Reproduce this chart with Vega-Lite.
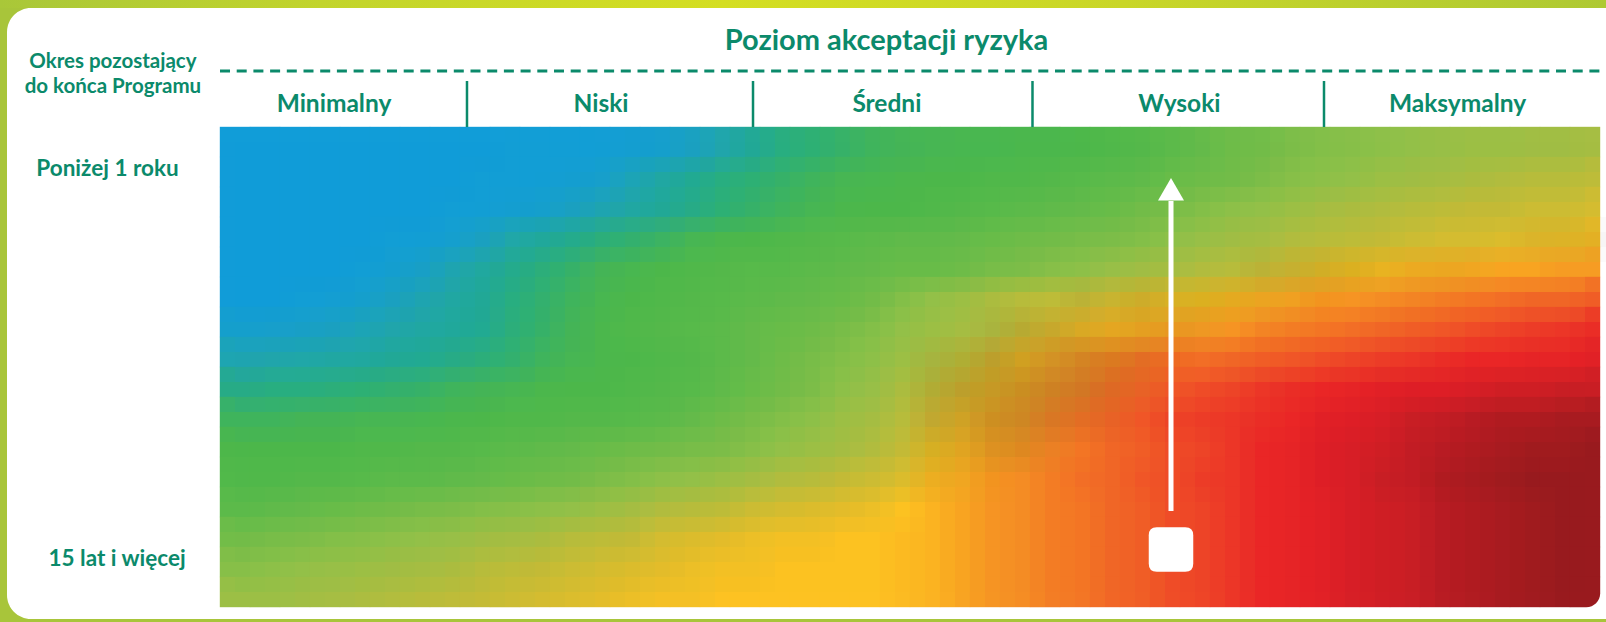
{
"$schema": "https://vega.github.io/schema/vega-lite/v6.json",
"width": 1599, "height": 612,
"autosize": {"type": "none"},
"padding": {"left": 7, "top": 8, "right": 0, "bottom": 2},
"background": "#A8C53A",
"config": {"view": {"fill": null, "stroke": null}, "font": "Lato"},
"datasets": {
"cells": [
{"c":0,"r":0,"v":2},{"c":1,"r":0,"v":2},{"c":2,"r":0,"v":2},{"c":3,"r":0,"v":2},{"c":4,"r":0,"v":2},{"c":5,"r":0,"v":2},{"c":6,"r":0,"v":2},{"c":7,"r":0,"v":2},{"c":8,"r":0,"v":2},{"c":9,"r":0,"v":3},{"c":10,"r":0,"v":3},{"c":11,"r":0,"v":3},{"c":12,"r":0,"v":4},{"c":13,"r":0,"v":6},{"c":14,"r":0,"v":9},{"c":15,"r":0,"v":12},{"c":16,"r":0,"v":16},{"c":17,"r":0,"v":21},{"c":18,"r":0,"v":25},{"c":19,"r":0,"v":27},{"c":20,"r":0,"v":29},{"c":21,"r":0,"v":31},{"c":22,"r":0,"v":32},{"c":23,"r":0,"v":33},{"c":24,"r":0,"v":34},{"c":25,"r":0,"v":34},{"c":26,"r":0,"v":35},{"c":27,"r":0,"v":35},{"c":28,"r":0,"v":36},{"c":29,"r":0,"v":37},{"c":30,"r":0,"v":38},{"c":31,"r":0,"v":40},{"c":32,"r":0,"v":42},{"c":33,"r":0,"v":44},{"c":34,"r":0,"v":45},{"c":35,"r":0,"v":47},{"c":36,"r":0,"v":48},{"c":37,"r":0,"v":49},{"c":38,"r":0,"v":50},{"c":39,"r":0,"v":51},{"c":40,"r":0,"v":52},{"c":41,"r":0,"v":53},{"c":42,"r":0,"v":53},{"c":43,"r":0,"v":54},{"c":44,"r":0,"v":54},{"c":45,"r":0,"v":55},
{"c":0,"r":1,"v":2},{"c":1,"r":1,"v":2},{"c":2,"r":1,"v":2},{"c":3,"r":1,"v":2},{"c":4,"r":1,"v":2},{"c":5,"r":1,"v":2},{"c":6,"r":1,"v":2},{"c":7,"r":1,"v":2},{"c":8,"r":1,"v":3},{"c":9,"r":1,"v":3},{"c":10,"r":1,"v":4},{"c":11,"r":1,"v":6},{"c":12,"r":1,"v":10},{"c":13,"r":1,"v":14},{"c":14,"r":1,"v":18},{"c":15,"r":1,"v":22},{"c":16,"r":1,"v":25},{"c":17,"r":1,"v":27},{"c":18,"r":1,"v":29},{"c":19,"r":1,"v":31},{"c":20,"r":1,"v":33},{"c":21,"r":1,"v":34},{"c":22,"r":1,"v":35},{"c":23,"r":1,"v":36},{"c":24,"r":1,"v":36},{"c":25,"r":1,"v":37},{"c":26,"r":1,"v":37},{"c":27,"r":1,"v":38},{"c":28,"r":1,"v":39},{"c":29,"r":1,"v":40},{"c":30,"r":1,"v":41},{"c":31,"r":1,"v":43},{"c":32,"r":1,"v":44},{"c":33,"r":1,"v":45},{"c":34,"r":1,"v":47},{"c":35,"r":1,"v":49},{"c":36,"r":1,"v":50},{"c":37,"r":1,"v":51},{"c":38,"r":1,"v":53},{"c":39,"r":1,"v":54},{"c":40,"r":1,"v":55},{"c":41,"r":1,"v":56},{"c":42,"r":1,"v":57},{"c":43,"r":1,"v":58},{"c":44,"r":1,"v":58},{"c":45,"r":1,"v":59},
{"c":0,"r":2,"v":2},{"c":1,"r":2,"v":2},{"c":2,"r":2,"v":2},{"c":3,"r":2,"v":2},{"c":4,"r":2,"v":2},{"c":5,"r":2,"v":2},{"c":6,"r":2,"v":2},{"c":7,"r":2,"v":3},{"c":8,"r":2,"v":4},{"c":9,"r":2,"v":6},{"c":10,"r":2,"v":9},{"c":11,"r":2,"v":12},{"c":12,"r":2,"v":15},{"c":13,"r":2,"v":18},{"c":14,"r":2,"v":21},{"c":15,"r":2,"v":24},{"c":16,"r":2,"v":27},{"c":17,"r":2,"v":29},{"c":18,"r":2,"v":31},{"c":19,"r":2,"v":33},{"c":20,"r":2,"v":35},{"c":21,"r":2,"v":36},{"c":22,"r":2,"v":36},{"c":23,"r":2,"v":37},{"c":24,"r":2,"v":38},{"c":25,"r":2,"v":39},{"c":26,"r":2,"v":40},{"c":27,"r":2,"v":41},{"c":28,"r":2,"v":42},{"c":29,"r":2,"v":43},{"c":30,"r":2,"v":45},{"c":31,"r":2,"v":46},{"c":32,"r":2,"v":48},{"c":33,"r":2,"v":50},{"c":34,"r":2,"v":51},{"c":35,"r":2,"v":53},{"c":36,"r":2,"v":55},{"c":37,"r":2,"v":56},{"c":38,"r":2,"v":57},{"c":39,"r":2,"v":58},{"c":40,"r":2,"v":59},{"c":41,"r":2,"v":60},{"c":42,"r":2,"v":60},{"c":43,"r":2,"v":61},{"c":44,"r":2,"v":61},{"c":45,"r":2,"v":62},
{"c":0,"r":3,"v":2},{"c":1,"r":3,"v":2},{"c":2,"r":3,"v":2},{"c":3,"r":3,"v":2},{"c":4,"r":3,"v":2},{"c":5,"r":3,"v":3},{"c":6,"r":3,"v":4},{"c":7,"r":3,"v":8},{"c":8,"r":3,"v":12},{"c":9,"r":3,"v":17},{"c":10,"r":3,"v":20},{"c":11,"r":3,"v":23},{"c":12,"r":3,"v":26},{"c":13,"r":3,"v":28},{"c":14,"r":3,"v":30},{"c":15,"r":3,"v":33},{"c":16,"r":3,"v":35},{"c":17,"r":3,"v":36},{"c":18,"r":3,"v":37},{"c":19,"r":3,"v":38},{"c":20,"r":3,"v":39},{"c":21,"r":3,"v":40},{"c":22,"r":3,"v":41},{"c":23,"r":3,"v":41},{"c":24,"r":3,"v":42},{"c":25,"r":3,"v":43},{"c":26,"r":3,"v":44},{"c":27,"r":3,"v":45},{"c":28,"r":3,"v":46},{"c":29,"r":3,"v":47},{"c":30,"r":3,"v":48},{"c":31,"r":3,"v":50},{"c":32,"r":3,"v":52},{"c":33,"r":3,"v":54},{"c":34,"r":3,"v":55},{"c":35,"r":3,"v":57},{"c":36,"r":3,"v":58},{"c":37,"r":3,"v":59},{"c":38,"r":3,"v":60},{"c":39,"r":3,"v":61},{"c":40,"r":3,"v":62},{"c":41,"r":3,"v":62},{"c":42,"r":3,"v":63},{"c":43,"r":3,"v":64},{"c":44,"r":3,"v":65},{"c":45,"r":3,"v":66},
{"c":0,"r":4,"v":2},{"c":1,"r":4,"v":2},{"c":2,"r":4,"v":2},{"c":3,"r":4,"v":2},{"c":4,"r":4,"v":3},{"c":5,"r":4,"v":7},{"c":6,"r":4,"v":11},{"c":7,"r":4,"v":15},{"c":8,"r":4,"v":19},{"c":9,"r":4,"v":23},{"c":10,"r":4,"v":26},{"c":11,"r":4,"v":29},{"c":12,"r":4,"v":32},{"c":13,"r":4,"v":34},{"c":14,"r":4,"v":36},{"c":15,"r":4,"v":37},{"c":16,"r":4,"v":38},{"c":17,"r":4,"v":39},{"c":18,"r":4,"v":39},{"c":19,"r":4,"v":40},{"c":20,"r":4,"v":41},{"c":21,"r":4,"v":42},{"c":22,"r":4,"v":43},{"c":23,"r":4,"v":43},{"c":24,"r":4,"v":44},{"c":25,"r":4,"v":46},{"c":26,"r":4,"v":47},{"c":27,"r":4,"v":49},{"c":28,"r":4,"v":50},{"c":29,"r":4,"v":52},{"c":30,"r":4,"v":54},{"c":31,"r":4,"v":55},{"c":32,"r":4,"v":57},{"c":33,"r":4,"v":58},{"c":34,"r":4,"v":60},{"c":35,"r":4,"v":62},{"c":36,"r":4,"v":64},{"c":37,"r":4,"v":66},{"c":38,"r":4,"v":67},{"c":39,"r":4,"v":68},{"c":40,"r":4,"v":69},{"c":41,"r":4,"v":70},{"c":42,"r":4,"v":71},{"c":43,"r":4,"v":71},{"c":44,"r":4,"v":72},{"c":45,"r":4,"v":72},
{"c":0,"r":5,"v":2},{"c":1,"r":5,"v":2},{"c":2,"r":5,"v":3},{"c":3,"r":5,"v":5},{"c":4,"r":5,"v":9},{"c":5,"r":5,"v":12},{"c":6,"r":5,"v":15},{"c":7,"r":5,"v":18},{"c":8,"r":5,"v":21},{"c":9,"r":5,"v":25},{"c":10,"r":5,"v":28},{"c":11,"r":5,"v":31},{"c":12,"r":5,"v":34},{"c":13,"r":5,"v":36},{"c":14,"r":5,"v":37},{"c":15,"r":5,"v":38},{"c":16,"r":5,"v":39},{"c":17,"r":5,"v":40},{"c":18,"r":5,"v":41},{"c":19,"r":5,"v":42},{"c":20,"r":5,"v":43},{"c":21,"r":5,"v":45},{"c":22,"r":5,"v":48},{"c":23,"r":5,"v":51},{"c":24,"r":5,"v":53},{"c":25,"r":5,"v":56},{"c":26,"r":5,"v":58},{"c":27,"r":5,"v":59},{"c":28,"r":5,"v":60},{"c":29,"r":5,"v":62},{"c":30,"r":5,"v":63},{"c":31,"r":5,"v":65},{"c":32,"r":5,"v":66},{"c":33,"r":5,"v":68},{"c":34,"r":5,"v":69},{"c":35,"r":5,"v":71},{"c":36,"r":5,"v":72},{"c":37,"r":5,"v":73},{"c":38,"r":5,"v":74},{"c":39,"r":5,"v":75},{"c":40,"r":5,"v":76},{"c":41,"r":5,"v":77},{"c":42,"r":5,"v":78},{"c":43,"r":5,"v":79},{"c":44,"r":5,"v":79},{"c":45,"r":5,"v":80},
{"c":0,"r":6,"v":9},{"c":1,"r":6,"v":10},{"c":2,"r":6,"v":11},{"c":3,"r":6,"v":12},{"c":4,"r":6,"v":14},{"c":5,"r":6,"v":16},{"c":6,"r":6,"v":18},{"c":7,"r":6,"v":20},{"c":8,"r":6,"v":22},{"c":9,"r":6,"v":26},{"c":10,"r":6,"v":29},{"c":11,"r":6,"v":32},{"c":12,"r":6,"v":35},{"c":13,"r":6,"v":37},{"c":14,"r":6,"v":38},{"c":15,"r":6,"v":39},{"c":16,"r":6,"v":40},{"c":17,"r":6,"v":42},{"c":18,"r":6,"v":43},{"c":19,"r":6,"v":44},{"c":20,"r":6,"v":46},{"c":21,"r":6,"v":48},{"c":22,"r":6,"v":51},{"c":23,"r":6,"v":53},{"c":24,"r":6,"v":55},{"c":25,"r":6,"v":57},{"c":26,"r":6,"v":60},{"c":27,"r":6,"v":63},{"c":28,"r":6,"v":66},{"c":29,"r":6,"v":68},{"c":30,"r":6,"v":70},{"c":31,"r":6,"v":71},{"c":32,"r":6,"v":72},{"c":33,"r":6,"v":73},{"c":34,"r":6,"v":75},{"c":35,"r":6,"v":76},{"c":36,"r":6,"v":77},{"c":37,"r":6,"v":78},{"c":38,"r":6,"v":79},{"c":39,"r":6,"v":80},{"c":40,"r":6,"v":81},{"c":41,"r":6,"v":82},{"c":42,"r":6,"v":83},{"c":43,"r":6,"v":84},{"c":44,"r":6,"v":85},{"c":45,"r":6,"v":86},
{"c":0,"r":7,"v":15},{"c":1,"r":7,"v":16},{"c":2,"r":7,"v":17},{"c":3,"r":7,"v":18},{"c":4,"r":7,"v":19},{"c":5,"r":7,"v":21},{"c":6,"r":7,"v":22},{"c":7,"r":7,"v":24},{"c":8,"r":7,"v":26},{"c":9,"r":7,"v":28},{"c":10,"r":7,"v":31},{"c":11,"r":7,"v":33},{"c":12,"r":7,"v":35},{"c":13,"r":7,"v":36},{"c":14,"r":7,"v":37},{"c":15,"r":7,"v":38},{"c":16,"r":7,"v":40},{"c":17,"r":7,"v":42},{"c":18,"r":7,"v":44},{"c":19,"r":7,"v":46},{"c":20,"r":7,"v":48},{"c":21,"r":7,"v":50},{"c":22,"r":7,"v":53},{"c":23,"r":7,"v":56},{"c":24,"r":7,"v":59},{"c":25,"r":7,"v":63},{"c":26,"r":7,"v":67},{"c":27,"r":7,"v":70},{"c":28,"r":7,"v":73},{"c":29,"r":7,"v":75},{"c":30,"r":7,"v":77},{"c":31,"r":7,"v":78},{"c":32,"r":7,"v":78},{"c":33,"r":7,"v":79},{"c":34,"r":7,"v":80},{"c":35,"r":7,"v":81},{"c":36,"r":7,"v":82},{"c":37,"r":7,"v":83},{"c":38,"r":7,"v":84},{"c":39,"r":7,"v":85},{"c":40,"r":7,"v":86},{"c":41,"r":7,"v":87},{"c":42,"r":7,"v":87},{"c":43,"r":7,"v":88},{"c":44,"r":7,"v":88},{"c":45,"r":7,"v":89},
{"c":0,"r":8,"v":24},{"c":1,"r":8,"v":25},{"c":2,"r":8,"v":25},{"c":3,"r":8,"v":26},{"c":4,"r":8,"v":27},{"c":5,"r":8,"v":28},{"c":6,"r":8,"v":29},{"c":7,"r":8,"v":31},{"c":8,"r":8,"v":32},{"c":9,"r":8,"v":33},{"c":10,"r":8,"v":35},{"c":11,"r":8,"v":36},{"c":12,"r":8,"v":36},{"c":13,"r":8,"v":37},{"c":14,"r":8,"v":38},{"c":15,"r":8,"v":39},{"c":16,"r":8,"v":41},{"c":17,"r":8,"v":43},{"c":18,"r":8,"v":45},{"c":19,"r":8,"v":47},{"c":20,"r":8,"v":50},{"c":21,"r":8,"v":52},{"c":22,"r":8,"v":56},{"c":23,"r":8,"v":59},{"c":24,"r":8,"v":63},{"c":25,"r":8,"v":67},{"c":26,"r":8,"v":70},{"c":27,"r":8,"v":73},{"c":28,"r":8,"v":75},{"c":29,"r":8,"v":78},{"c":30,"r":8,"v":79},{"c":31,"r":8,"v":81},{"c":32,"r":8,"v":82},{"c":33,"r":8,"v":83},{"c":34,"r":8,"v":85},{"c":35,"r":8,"v":86},{"c":36,"r":8,"v":87},{"c":37,"r":8,"v":88},{"c":38,"r":8,"v":89},{"c":39,"r":8,"v":90},{"c":40,"r":8,"v":90},{"c":41,"r":8,"v":91},{"c":42,"r":8,"v":92},{"c":43,"r":8,"v":92},{"c":44,"r":8,"v":93},{"c":45,"r":8,"v":93},
{"c":0,"r":9,"v":31},{"c":1,"r":9,"v":31},{"c":2,"r":9,"v":32},{"c":3,"r":9,"v":32},{"c":4,"r":9,"v":33},{"c":5,"r":9,"v":33},{"c":6,"r":9,"v":34},{"c":7,"r":9,"v":35},{"c":8,"r":9,"v":36},{"c":9,"r":9,"v":37},{"c":10,"r":9,"v":37},{"c":11,"r":9,"v":38},{"c":12,"r":9,"v":38},{"c":13,"r":9,"v":39},{"c":14,"r":9,"v":40},{"c":15,"r":9,"v":42},{"c":16,"r":9,"v":44},{"c":17,"r":9,"v":46},{"c":18,"r":9,"v":48},{"c":19,"r":9,"v":50},{"c":20,"r":9,"v":53},{"c":21,"r":9,"v":55},{"c":22,"r":9,"v":58},{"c":23,"r":9,"v":62},{"c":24,"r":9,"v":66},{"c":25,"r":9,"v":70},{"c":26,"r":9,"v":72},{"c":27,"r":9,"v":75},{"c":28,"r":9,"v":77},{"c":29,"r":9,"v":79},{"c":30,"r":9,"v":81},{"c":31,"r":9,"v":83},{"c":32,"r":9,"v":84},{"c":33,"r":9,"v":85},{"c":34,"r":9,"v":86},{"c":35,"r":9,"v":87},{"c":36,"r":9,"v":89},{"c":37,"r":9,"v":90},{"c":38,"r":9,"v":91},{"c":39,"r":9,"v":93},{"c":40,"r":9,"v":94},{"c":41,"r":9,"v":95},{"c":42,"r":9,"v":96},{"c":43,"r":9,"v":96},{"c":44,"r":9,"v":97},{"c":45,"r":9,"v":97},
{"c":0,"r":10,"v":36},{"c":1,"r":10,"v":36},{"c":2,"r":10,"v":36},{"c":3,"r":10,"v":36},{"c":4,"r":10,"v":37},{"c":5,"r":10,"v":37},{"c":6,"r":10,"v":38},{"c":7,"r":10,"v":38},{"c":8,"r":10,"v":39},{"c":9,"r":10,"v":40},{"c":10,"r":10,"v":41},{"c":11,"r":10,"v":42},{"c":12,"r":10,"v":43},{"c":13,"r":10,"v":44},{"c":14,"r":10,"v":45},{"c":15,"r":10,"v":46},{"c":16,"r":10,"v":47},{"c":17,"r":10,"v":49},{"c":18,"r":10,"v":51},{"c":19,"r":10,"v":53},{"c":20,"r":10,"v":55},{"c":21,"r":10,"v":57},{"c":22,"r":10,"v":60},{"c":23,"r":10,"v":65},{"c":24,"r":10,"v":68},{"c":25,"r":10,"v":71},{"c":26,"r":10,"v":73},{"c":27,"r":10,"v":75},{"c":28,"r":10,"v":77},{"c":29,"r":10,"v":79},{"c":30,"r":10,"v":80},{"c":31,"r":10,"v":82},{"c":32,"r":10,"v":83},{"c":33,"r":10,"v":85},{"c":34,"r":10,"v":87},{"c":35,"r":10,"v":88},{"c":36,"r":10,"v":90},{"c":37,"r":10,"v":91},{"c":38,"r":10,"v":92},{"c":39,"r":10,"v":94},{"c":40,"r":10,"v":95},{"c":41,"r":10,"v":96},{"c":42,"r":10,"v":97},{"c":43,"r":10,"v":98},{"c":44,"r":10,"v":98},{"c":45,"r":10,"v":99},
{"c":0,"r":11,"v":37},{"c":1,"r":11,"v":37},{"c":2,"r":11,"v":38},{"c":3,"r":11,"v":38},{"c":4,"r":11,"v":39},{"c":5,"r":11,"v":40},{"c":6,"r":11,"v":40},{"c":7,"r":11,"v":41},{"c":8,"r":11,"v":42},{"c":9,"r":11,"v":43},{"c":10,"r":11,"v":44},{"c":11,"r":11,"v":45},{"c":12,"r":11,"v":47},{"c":13,"r":11,"v":48},{"c":14,"r":11,"v":50},{"c":15,"r":11,"v":51},{"c":16,"r":11,"v":53},{"c":17,"r":11,"v":55},{"c":18,"r":11,"v":57},{"c":19,"r":11,"v":58},{"c":20,"r":11,"v":60},{"c":21,"r":11,"v":61},{"c":22,"r":11,"v":63},{"c":23,"r":11,"v":68},{"c":24,"r":11,"v":70},{"c":25,"r":11,"v":72},{"c":26,"r":11,"v":74},{"c":27,"r":11,"v":76},{"c":28,"r":11,"v":78},{"c":29,"r":11,"v":79},{"c":30,"r":11,"v":81},{"c":31,"r":11,"v":82},{"c":32,"r":11,"v":84},{"c":33,"r":11,"v":85},{"c":34,"r":11,"v":87},{"c":35,"r":11,"v":88},{"c":36,"r":11,"v":90},{"c":37,"r":11,"v":91},{"c":38,"r":11,"v":93},{"c":39,"r":11,"v":94},{"c":40,"r":11,"v":96},{"c":41,"r":11,"v":97},{"c":42,"r":11,"v":98},{"c":43,"r":11,"v":99},{"c":44,"r":11,"v":99},{"c":45,"r":11,"v":99},
{"c":0,"r":12,"v":40},{"c":1,"r":12,"v":41},{"c":2,"r":12,"v":42},{"c":3,"r":12,"v":43},{"c":4,"r":12,"v":44},{"c":5,"r":12,"v":45},{"c":6,"r":12,"v":46},{"c":7,"r":12,"v":47},{"c":8,"r":12,"v":48},{"c":9,"r":12,"v":49},{"c":10,"r":12,"v":50},{"c":11,"r":12,"v":51},{"c":12,"r":12,"v":53},{"c":13,"r":12,"v":55},{"c":14,"r":12,"v":57},{"c":15,"r":12,"v":58},{"c":16,"r":12,"v":59},{"c":17,"r":12,"v":61},{"c":18,"r":12,"v":62},{"c":19,"r":12,"v":63},{"c":20,"r":12,"v":64},{"c":21,"r":12,"v":65},{"c":22,"r":12,"v":67},{"c":23,"r":12,"v":69},{"c":24,"r":12,"v":71},{"c":25,"r":12,"v":73},{"c":26,"r":12,"v":74},{"c":27,"r":12,"v":76},{"c":28,"r":12,"v":77},{"c":29,"r":12,"v":79},{"c":30,"r":12,"v":80},{"c":31,"r":12,"v":82},{"c":32,"r":12,"v":83},{"c":33,"r":12,"v":85},{"c":34,"r":12,"v":87},{"c":35,"r":12,"v":88},{"c":36,"r":12,"v":89},{"c":37,"r":12,"v":91},{"c":38,"r":12,"v":92},{"c":39,"r":12,"v":93},{"c":40,"r":12,"v":95},{"c":41,"r":12,"v":96},{"c":42,"r":12,"v":97},{"c":43,"r":12,"v":98},{"c":44,"r":12,"v":99},{"c":45,"r":12,"v":99},
{"c":0,"r":13,"v":45},{"c":1,"r":13,"v":46},{"c":2,"r":13,"v":47},{"c":3,"r":13,"v":48},{"c":4,"r":13,"v":49},{"c":5,"r":13,"v":50},{"c":6,"r":13,"v":51},{"c":7,"r":13,"v":52},{"c":8,"r":13,"v":54},{"c":9,"r":13,"v":55},{"c":10,"r":13,"v":56},{"c":11,"r":13,"v":58},{"c":12,"r":13,"v":59},{"c":13,"r":13,"v":60},{"c":14,"r":13,"v":62},{"c":15,"r":13,"v":63},{"c":16,"r":13,"v":64},{"c":17,"r":13,"v":65},{"c":18,"r":13,"v":66},{"c":19,"r":13,"v":66},{"c":20,"r":13,"v":67},{"c":21,"r":13,"v":67},{"c":22,"r":13,"v":68},{"c":23,"r":13,"v":69},{"c":24,"r":13,"v":71},{"c":25,"r":13,"v":73},{"c":26,"r":13,"v":74},{"c":27,"r":13,"v":76},{"c":28,"r":13,"v":77},{"c":29,"r":13,"v":79},{"c":30,"r":13,"v":80},{"c":31,"r":13,"v":82},{"c":32,"r":13,"v":83},{"c":33,"r":13,"v":85},{"c":34,"r":13,"v":87},{"c":35,"r":13,"v":88},{"c":36,"r":13,"v":89},{"c":37,"r":13,"v":91},{"c":38,"r":13,"v":92},{"c":39,"r":13,"v":93},{"c":40,"r":13,"v":95},{"c":41,"r":13,"v":96},{"c":42,"r":13,"v":97},{"c":43,"r":13,"v":98},{"c":44,"r":13,"v":99},{"c":45,"r":13,"v":99},
{"c":0,"r":14,"v":49},{"c":1,"r":14,"v":50},{"c":2,"r":14,"v":51},{"c":3,"r":14,"v":52},{"c":4,"r":14,"v":53},{"c":5,"r":14,"v":54},{"c":6,"r":14,"v":55},{"c":7,"r":14,"v":56},{"c":8,"r":14,"v":58},{"c":9,"r":14,"v":59},{"c":10,"r":14,"v":60},{"c":11,"r":14,"v":61},{"c":12,"r":14,"v":62},{"c":13,"r":14,"v":63},{"c":14,"r":14,"v":64},{"c":15,"r":14,"v":65},{"c":16,"r":14,"v":66},{"c":17,"r":14,"v":66},{"c":18,"r":14,"v":67},{"c":19,"r":14,"v":67},{"c":20,"r":14,"v":67},{"c":21,"r":14,"v":67},{"c":22,"r":14,"v":68},{"c":23,"r":14,"v":69},{"c":24,"r":14,"v":71},{"c":25,"r":14,"v":73},{"c":26,"r":14,"v":74},{"c":27,"r":14,"v":76},{"c":28,"r":14,"v":77},{"c":29,"r":14,"v":79},{"c":30,"r":14,"v":80},{"c":31,"r":14,"v":82},{"c":32,"r":14,"v":83},{"c":33,"r":14,"v":85},{"c":34,"r":14,"v":87},{"c":35,"r":14,"v":88},{"c":36,"r":14,"v":89},{"c":37,"r":14,"v":91},{"c":38,"r":14,"v":92},{"c":39,"r":14,"v":93},{"c":40,"r":14,"v":95},{"c":41,"r":14,"v":96},{"c":42,"r":14,"v":97},{"c":43,"r":14,"v":98},{"c":44,"r":14,"v":99},{"c":45,"r":14,"v":99},
{"c":0,"r":15,"v":53},{"c":1,"r":15,"v":53},{"c":2,"r":15,"v":54},{"c":3,"r":15,"v":55},{"c":4,"r":15,"v":56},{"c":5,"r":15,"v":57},{"c":6,"r":15,"v":58},{"c":7,"r":15,"v":59},{"c":8,"r":15,"v":60},{"c":9,"r":15,"v":61},{"c":10,"r":15,"v":62},{"c":11,"r":15,"v":63},{"c":12,"r":15,"v":64},{"c":13,"r":15,"v":65},{"c":14,"r":15,"v":66},{"c":15,"r":15,"v":66},{"c":16,"r":15,"v":67},{"c":17,"r":15,"v":67},{"c":18,"r":15,"v":67},{"c":19,"r":15,"v":67},{"c":20,"r":15,"v":67},{"c":21,"r":15,"v":67},{"c":22,"r":15,"v":68},{"c":23,"r":15,"v":69},{"c":24,"r":15,"v":71},{"c":25,"r":15,"v":73},{"c":26,"r":15,"v":74},{"c":27,"r":15,"v":76},{"c":28,"r":15,"v":77},{"c":29,"r":15,"v":79},{"c":30,"r":15,"v":80},{"c":31,"r":15,"v":82},{"c":32,"r":15,"v":83},{"c":33,"r":15,"v":85},{"c":34,"r":15,"v":87},{"c":35,"r":15,"v":88},{"c":36,"r":15,"v":89},{"c":37,"r":15,"v":91},{"c":38,"r":15,"v":92},{"c":39,"r":15,"v":93},{"c":40,"r":15,"v":95},{"c":41,"r":15,"v":96},{"c":42,"r":15,"v":97},{"c":43,"r":15,"v":98},{"c":44,"r":15,"v":99},{"c":45,"r":15,"v":99}
],
"cien": [
{"c":43,"r":3,"s":0.05},{"c":44,"r":3,"s":0.07},{"c":45,"r":3,"s":0.09},
{"c":34,"r":4,"s":0.04},{"c":35,"r":4,"s":0.07},{"c":36,"r":4,"s":0.1},{"c":37,"r":4,"s":0.12},{"c":38,"r":4,"s":0.1},{"c":39,"r":4,"s":0.09},{"c":40,"r":4,"s":0.07},{"c":41,"r":4,"s":0.04},
{"c":28,"r":5,"s":0.04},{"c":29,"r":5,"s":0.06},{"c":30,"r":5,"s":0.08},{"c":31,"r":5,"s":0.1},{"c":32,"r":5,"s":0.12},{"c":33,"r":5,"s":0.11},{"c":34,"r":5,"s":0.09},{"c":35,"r":5,"s":0.05},{"c":36,"r":5,"s":0.03},
{"c":25,"r":6,"s":0.04},{"c":26,"r":6,"s":0.08},{"c":27,"r":6,"s":0.13},{"c":28,"r":6,"s":0.15},{"c":29,"r":6,"s":0.13},{"c":30,"r":6,"s":0.1},{"c":31,"r":6,"s":0.07},{"c":32,"r":6,"s":0.04},
{"c":23,"r":7,"s":0.04},{"c":24,"r":7,"s":0.1},{"c":25,"r":7,"s":0.21},{"c":26,"r":7,"s":0.25},{"c":27,"r":7,"s":0.21},{"c":28,"r":7,"s":0.17},{"c":29,"r":7,"s":0.12},{"c":30,"r":7,"s":0.07},{"c":31,"r":7,"s":0.03},
{"c":23,"r":8,"s":0.08},{"c":24,"r":8,"s":0.21},{"c":25,"r":8,"s":0.3},{"c":26,"r":8,"s":0.27},{"c":27,"r":8,"s":0.22},{"c":28,"r":8,"s":0.17},{"c":29,"r":8,"s":0.1},{"c":30,"r":8,"s":0.05},
{"c":23,"r":9,"s":0.13},{"c":24,"r":9,"s":0.21},{"c":25,"r":9,"s":0.25},{"c":26,"r":9,"s":0.22},{"c":27,"r":9,"s":0.15},{"c":28,"r":9,"s":0.08},{"c":29,"r":9,"s":0.04},
{"c":23,"r":10,"s":0.12},{"c":24,"r":10,"s":0.15},{"c":25,"r":10,"s":0.15},{"c":26,"r":10,"s":0.11},{"c":27,"r":10,"s":0.05},
{"c":23,"r":11,"s":0.07},{"c":24,"r":11,"s":0.05},{"c":25,"r":11,"s":0.03}
],
"tytul": [{"t": "Poziom akceptacji ryzyka", "c": 21.717, "r": -3.067}],
"kategorie": [
{"t": "Minimalny", "c": 3.3, "r": -1.0},
{"t": "Niski", "c": 12.2, "r": -1.0},
{"t": "Średni", "c": 21.73, "r": -1.0},
{"t": "Wysoki", "c": 31.48, "r": -1.0},
{"t": "Maksymalny", "c": 40.75, "r": -1.0}
],
"granice": [{"c": 7.733}, {"c": 17.267}, {"c": 26.583}, {"c": 36.3}],
"naglowek": [
{"t": "Okres pozostający", "c": -4.07, "r": -2.477},
{"t": "do końca Programu", "c": -4.07, "r": -1.643}
],
"okresy": [
{"t": "Poniżej 1 roku", "c": -4.25, "r": 1.133},
{"t": "15 lat i więcej", "c": -3.93, "r": 14.123}
],
"wskaznik": [{"c": 31.2, "r": 13.583}],
"strzalka": [{"c": 31.2, "r": 1.577}]
},
"layer": [
{
"data": {"values": [{}]},
"mark": {"type": "rect", "color": {"gradient": "linear", "x1": 0, "x2": 1, "y1": 0, "y2": 0, "stops": [{"offset": 0, "color": "#A9C739"}, {"offset": 0.2, "color": "#C2D42C"}, {"offset": 0.45, "color": "#D4DE22"}, {"offset": 0.7, "color": "#C9D628"}, {"offset": 1, "color": "#AEC933"}]}},
"encoding": {
"x": {"datum": -7.8333, "type": "quantitative", "scale": {"domain": [-7.6, 45.7], "nice": false, "zero": false}, "axis": null},
"x2": {"datum": 45.7},
"y": {"datum": -4.7333, "type": "quantitative", "scale": {"domain": [-4.466666666666667, 15.933333333333334], "nice": false, "zero": false, "reverse": true}, "axis": null},
"y2": {"datum": -4.4667}
}
},
{
"data": {"values": [{}]},
"mark": {"type": "rect", "color": "#FFFFFF", "cornerRadiusTopLeft": 24, "cornerRadiusBottomLeft": 24},
"encoding": {
"x": {"datum": -7.6, "type": "quantitative", "axis": null},
"x2": {"datum": 46.5},
"y": {"datum": -4.466666666666667, "type": "quantitative", "axis": null},
"y2": {"datum": 15.9}
}
},
{
"data": {"name": "cells"},
"mark": {"type": "rect", "width": 30.4, "height": 30.4, "cornerRadiusBottomRight": {"expr": "datum.c == 45 && datum.r == 15 ? 14 : 0"}},
"encoding": {
"x": {"field": "c", "type": "quantitative", "axis": null},
"y": {"field": "r", "type": "quantitative", "axis": null},
"color": {"field": "v", "type": "quantitative", "legend": null,
"scale": {"interpolate": "rgb",
"domain": [0,10,16,22,27,32,36,40,45,50,55,60,64,67,71,75,79,83,87,90,94,97,100],
"range": ["#109DDB","#179FCB","#20A6AC","#22AA92","#2EB074","#45B556","#4DB84A","#5CBA4A","#72BD49","#8EC049","#A6BE43","#C4BB36","#E3BD2A","#FDC222","#F8A422","#F48524","#F16626","#EE4527","#EA2626","#DE1F26","#C21D24","#A81B20","#921A1D"]}}
}
},
{
"data": {"name": "cells"},
"transform": [{"filter": "datum.c < 45"}],
"mark": {"type": "rect", "width": 30, "height": 30, "xOffset": 15, "opacity": 0.5},
"encoding": {
"x": {"field": "c", "type": "quantitative", "axis": null},
"y": {"field": "r", "type": "quantitative", "axis": null},
"color": {"field": "v", "type": "quantitative", "legend": null}
}
},
{
"data": {"name": "cells"},
"transform": [{"filter": "datum.r < 15"}],
"mark": {"type": "rect", "width": 30, "height": 30, "yOffset": 15, "opacity": 0.3333},
"encoding": {
"x": {"field": "c", "type": "quantitative", "axis": null},
"y": {"field": "r", "type": "quantitative", "axis": null},
"color": {"field": "v", "type": "quantitative", "legend": null}
}
},
{
"data": {"name": "cells"},
"transform": [{"filter": "datum.c < 45 && datum.r < 15"}],
"mark": {"type": "rect", "width": 30, "height": 30, "xOffset": 15, "yOffset": 15, "opacity": 0.25},
"encoding": {
"x": {"field": "c", "type": "quantitative", "axis": null},
"y": {"field": "r", "type": "quantitative", "axis": null},
"color": {"field": "v", "type": "quantitative", "legend": null}
}
},
{
"data": {"name": "cien"},
"mark": {"type": "rect", "width": 30, "height": 30, "color": "#4A3F2E"},
"encoding": {
"x": {"field": "c", "type": "quantitative", "axis": null},
"y": {"field": "r", "type": "quantitative", "axis": null},
"opacity": {"field": "s", "type": "quantitative", "legend": null, "scale": {"type": "linear", "domain": [0, 1], "range": [0, 0.27]}}
}
},
{
"data": {"name": "cien"},
"mark": {"type": "rect", "width": 30, "height": 30, "color": "#4A3F2E", "xOffset": 15},
"encoding": {
"x": {"field": "c", "type": "quantitative", "axis": null},
"y": {"field": "r", "type": "quantitative", "axis": null},
"opacity": {"field": "s", "type": "quantitative", "legend": null}
}
},
{
"data": {"name": "cien"},
"mark": {"type": "rect", "width": 30, "height": 30, "color": "#4A3F2E", "yOffset": 15},
"encoding": {
"x": {"field": "c", "type": "quantitative", "axis": null},
"y": {"field": "r", "type": "quantitative", "axis": null},
"opacity": {"field": "s", "type": "quantitative", "legend": null}
}
},
{
"data": {"name": "cien"},
"mark": {"type": "rect", "width": 30, "height": 30, "color": "#4A3F2E", "xOffset": 15, "yOffset": 15},
"encoding": {
"x": {"field": "c", "type": "quantitative", "axis": null},
"y": {"field": "r", "type": "quantitative", "axis": null},
"opacity": {"field": "s", "type": "quantitative", "legend": null}
}
},
{
"data": {"values": [{}]},
"mark": {"type": "rule", "color": "#0B8A6B", "strokeWidth": 3, "strokeDash": [10, 6.7]},
"encoding": {
"x": {"datum": -0.5, "type": "quantitative", "axis": null},
"x2": {"datum": 45.6},
"y": {"datum": -2.3667, "type": "quantitative", "axis": null}
}
},
{
"data": {"name": "granice"},
"mark": {"type": "rule", "color": "#0B8A6B", "strokeWidth": 2.5},
"encoding": {
"x": {"field": "c", "type": "quantitative", "axis": null},
"y": {"datum": -2.033, "type": "quantitative", "axis": null},
"y2": {"datum": -0.5}
}
},
{
"data": {"name": "tytul"},
"mark": {"type": "text", "font": "Lato", "fontWeight": "bold", "fontSize": 29, "color": "#0B8A6B", "align": "center", "baseline": "alphabetic"},
"encoding": {
"x": {"field": "c", "type": "quantitative", "axis": null},
"y": {"field": "r", "type": "quantitative", "axis": null},
"text": {"field": "t"}
}
},
{
"data": {"name": "kategorie"},
"mark": {"type": "text", "font": "Lato", "fontWeight": "bold", "fontSize": 24.5, "color": "#0B8A6B", "align": "center", "baseline": "alphabetic"},
"encoding": {
"x": {"field": "c", "type": "quantitative", "axis": null},
"y": {"field": "r", "type": "quantitative", "axis": null},
"text": {"field": "t"}
}
},
{
"data": {"name": "naglowek"},
"mark": {"type": "text", "font": "Lato", "fontWeight": "bold", "fontSize": 20.5, "color": "#0B8A6B", "align": "center", "baseline": "alphabetic"},
"encoding": {
"x": {"field": "c", "type": "quantitative", "axis": null},
"y": {"field": "r", "type": "quantitative", "axis": null},
"text": {"field": "t"}
}
},
{
"data": {"name": "okresy"},
"mark": {"type": "text", "font": "Lato", "fontWeight": "bold", "fontSize": 22.5, "color": "#0B8A6B", "align": "center", "baseline": "alphabetic"},
"encoding": {
"x": {"field": "c", "type": "quantitative", "axis": null},
"y": {"field": "r", "type": "quantitative", "axis": null},
"text": {"field": "t"}
}
},
{
"data": {"values": [{}]},
"mark": {"type": "rule", "color": "#FFFFFF", "strokeWidth": 5},
"encoding": {
"x": {"datum": 31.2, "type": "quantitative", "axis": null},
"y": {"datum": 1.9667, "type": "quantitative", "axis": null},
"y2": {"datum": 12.3}
}
},
{
"data": {"name": "strzalka"},
"mark": {"type": "point", "shape": "triangle-up", "size": 676, "filled": true, "color": "#FFFFFF", "opacity": 1, "strokeWidth": 0},
"encoding": {
"x": {"field": "c", "type": "quantitative", "axis": null},
"y": {"field": "r", "type": "quantitative", "axis": null}
}
},
{
"data": {"name": "wskaznik"},
"mark": {"type": "point", "shape": "M-0.64,-1L0.64,-1Q1,-1 1,-0.64L1,0.64Q1,1 0.64,1L-0.64,1Q-1,1 -1,0.64L-1,-0.64Q-1,-1 -0.64,-1Z", "size": 1980, "filled": true, "color": "#FFFFFF", "opacity": 1, "strokeWidth": 0},
"encoding": {
"x": {"field": "c", "type": "quantitative", "axis": null},
"y": {"field": "r", "type": "quantitative", "axis": null}
}
}
]
}
